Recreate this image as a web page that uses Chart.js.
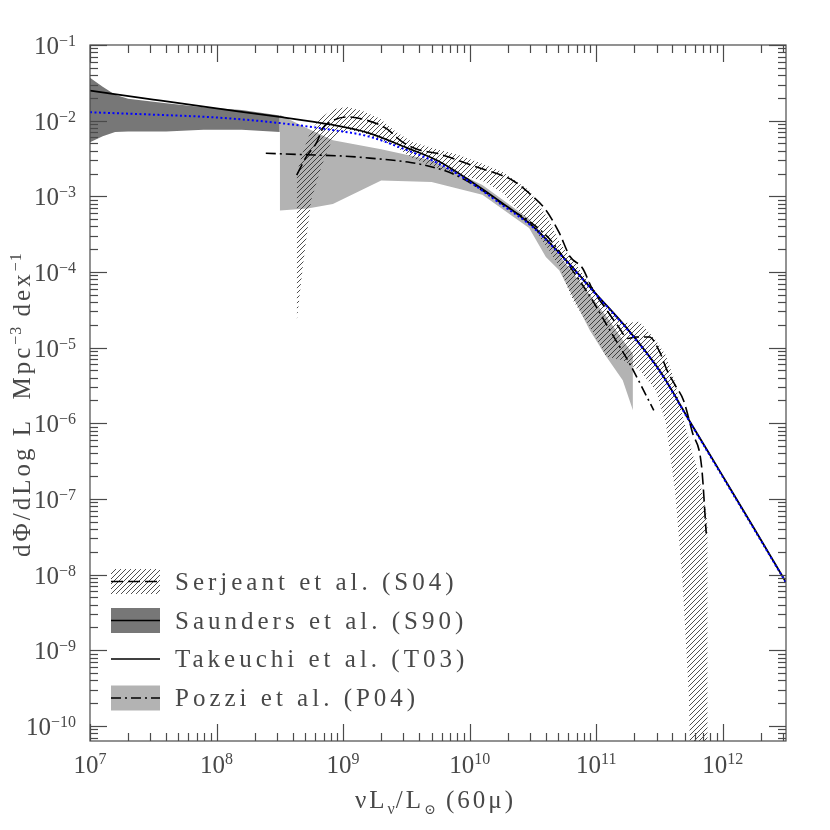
<!DOCTYPE html>
<html>
<head>
<meta charset="utf-8">
<script src="https://cdn.jsdelivr.net/npm/chart.js@4.4.1/dist/chart.umd.min.js"></script>
<style>
  body { margin: 0; background: #fff; }
</style>
</head>
<body>
<canvas id="lf" width="830" height="830"></canvas>
<script>
// ==============================
// Data
// ==============================

// Saunders et al. (S90) - dark grey band
const s90X  = [1.0e7, 1.26e7, 1.58e7, 2.0e7, 4.0e7, 7.9e7, 1.58e8, 3.16e8];
const s90Hi = [3.7e-2, 2.8e-2, 2.2e-2, 1.95e-2, 1.7e-2, 1.5e-2, 1.38e-2, 1.17e-2];
const s90Lo = [5.2e-3, 6.2e-3, 7.1e-3, 7.2e-3, 7.2e-3, 7.6e-3, 7.6e-3, 7.1e-3];

// Pozzi et al. (P04) - light grey band and dash-dot line
const p04X  = [3.16e8, 5.25e8, 8.3e8, 2.0e9, 5.0e9, 1.26e10, 2.95e10, 4.0e10, 5.1e10, 8.9e10, 1.2e11, 1.62e11, 1.95e11];
const p04Hi = [1.2e-2, 7.9e-3, 5.5e-3, 4.2e-3, 3.0e-3, 1.41e-3, 5.0e-4, 2.8e-4, 1.66e-4, 5.0e-5, 2.6e-5, 1.26e-5, 8.3e-6];
const p04Lo = [6.5e-4, 6.9e-4, 7.9e-4, 1.62e-3, 1.55e-3, 1.05e-3, 3.8e-4, 1.58e-4, 1.05e-4, 1.7e-5, 7.6e-6, 3.7e-6, 1.48e-6];
const p04LineX = [2.45e8, 5.0e8, 1.0e9, 1.62e9, 3.4e9, 5.5e9, 7.8e9, 1.26e10, 2.04e10, 2.95e10, 4.3e10, 6.2e10, 8.9e10, 1.26e11, 1.86e11, 2.85e11];
const p04LineY = [3.7e-3, 3.55e-3, 3.4e-3, 3.2e-3, 2.8e-3, 2.35e-3, 1.9e-3, 1.2e-3, 6.9e-4, 4.7e-4, 2.7e-4, 1.17e-4, 4.8e-5, 1.78e-5, 5.9e-6, 1.48e-6];

// Serjeant et al. (S04) - hatched band and dashed line
const s04X  = [4.3e8, 4.8e8, 5.6e8, 6.8e8, 8.3e8, 1.07e9, 1.41e9, 1.95e9, 2.63e9, 3.55e9, 4.8e9, 8.3e9, 1.26e10, 1.82e10, 2.95e10,
               4.2e10, 5.1e10, 6.5e10, 8.9e10, 1.2e11, 1.62e11, 2.2e11, 2.95e11, 3.55e11, 4.2e11, 4.8e11, 5.4e11, 5.75e11, 6.3e11, 7.4e11, 7.6e11];
const s04Hi = [2.0e-3, 3.8e-3, 7.6e-3, 1.12e-2, 1.41e-2, 1.51e-2, 1.35e-2, 1.07e-2, 7.1e-3, 5.2e-3, 4.5e-3, 3.5e-3, 2.7e-3, 2.1e-3, 1.2e-3,
               5.0e-4, 2.5e-4, 1.45e-4, 7.1e-5, 3.5e-5, 2.1e-5, 2.2e-5, 1.26e-5, 7.9e-6, 3.5e-6, 1.26e-6, 6.3e-7, 4.0e-7, 2.5e-7, 6.5e-8, 4.5e-8];
const s04Lo = [2.2e-5, 1.15e-4, 8.9e-4, 2.6e-3, 5.9e-3, 7.6e-3, 6.9e-3, 5.6e-3, 4.5e-3, 3.2e-3, 2.6e-3, 1.9e-3, 1.6e-3, 1.12e-3, 4.5e-4,
               2.0e-4, 1.17e-4, 4.3e-5, 1.9e-5, 7.6e-6, 6.8e-6, 5.0e-6, 2.75e-6, 1.0e-6, 1.26e-7, 8.5e-9, 2.5e-10, 1e-12, 1e-12, 1e-12, 1e-12];
const s04LineX = [4.3e8, 5.1e8, 6.2e8, 6.9e8, 7.8e8, 1.07e9, 1.51e9, 2.19e9, 2.95e9, 4.0e9, 5.5e9, 7.2e9, 1.12e10, 2.19e10,
                  2.95e10, 4.0e10, 5.1e10, 6.2e10, 7.8e10, 9.3e10, 1.2e11, 1.51e11, 1.78e11, 2.04e11, 2.63e11, 3.16e11, 3.63e11,
                  4.2e11, 4.9e11, 5.75e11, 6.8e11, 7.4e11];
const s04LineY = [1.9e-3, 3.3e-3, 5.2e-3, 7.9e-3, 9.5e-3, 1.12e-2, 1.02e-2, 7.9e-3, 5.2e-3, 4.1e-3, 3.7e-3, 3.2e-3, 2.45e-3, 1.62e-3,
                  1.1e-3, 6.6e-4, 3.3e-4, 1.6e-4, 1.12e-4, 6.0e-5, 3.2e-5, 1.86e-5, 1.32e-5, 1.38e-5, 1.38e-5, 8.9e-6, 5.0e-6,
                  3.2e-6, 2.0e-6, 7.6e-7, 2.7e-7, 3.5e-8];

// Takeuchi et al. (T03) - solid line, and the blue dotted fit
const t03X = [1e7, 3.16e7, 1e8, 3.16e8, 7.9e8, 1.58e9, 3.16e9, 5.6e9, 1e10, 1.78e10, 3.16e10, 5.6e10,
              1e11, 1.78e11, 3.16e11, 5.6e11, 1e12, 1.78e12, 3.16e12];
const t03Y = [2.5e-2, 1.9e-2, 1.45e-2, 1.12e-2, 8.9e-3, 6.9e-3, 4.4e-3, 2.95e-3, 1.62e-3, 8.3e-4, 4.0e-4, 1.51e-4,
              5.1e-5, 1.74e-5, 5.0e-6, 1.0e-6, 2.0e-7, 4.0e-8, 7.9e-9];
const fitY = [1.29e-2, 1.2e-2, 1.1e-2, 9.3e-3, 7.6e-3, 6.2e-3, 4.1e-3, 2.75e-3, 1.55e-3, 7.8e-4, 3.9e-4, 1.48e-4,
              5.0e-5, 1.7e-5, 4.9e-6, 9.8e-7, 1.95e-7, 3.9e-8, 7.8e-9];

// Axis tick labels (powers of ten)
const xExps = ['7', '8', '9', '10', '11', '12'];
const yExps = ['-1', '-2', '-3', '-4', '-5', '-6', '-7', '-8', '-9', '-10'];

const legendLabels = ['Serjeant et al. (S04)', 'Saunders et al. (S90)', 'Takeuchi et al. (T03)', 'Pozzi et al. (P04)'];

// ==============================
// Helpers
// ==============================
const pts = (xs, ys) => xs.map((x, i) => ({ x: x, y: ys[i] }));

function makeHatch() {
    const c = document.createElement('canvas');
    c.width = 5; c.height = 5;
    const g = c.getContext('2d');
    g.strokeStyle = '#222';
    g.lineWidth = 0.8;
    g.beginPath();
    g.moveTo(0, 5); g.lineTo(5, 0);
    g.moveTo(-1, 1); g.lineTo(1, -1);
    g.moveTo(4, 6); g.lineTo(6, 4);
    g.stroke();
    return g.createPattern(c, 'repeat');
}
const hatch = makeHatch();

const FONT = '"Liberation Serif", "DejaVu Serif", serif';
const INK = '#484848';

function rich(ctx, parts, x, y, draw) {
    let cx = x;
    for (const [t, size, dy, sp] of parts) {
        ctx.font = size + 'px ' + FONT;
        ctx.letterSpacing = (sp || 0) + 'px';
        if (draw) ctx.fillText(t, cx, y + dy);
        cx += ctx.measureText(t).width;
    }
    return cx - x;
}

// ==============================
// Frame, ticks, labels, legend
// ==============================
const decor = {
    id: 'decor',
    afterDraw(chart) {
        const { ctx, chartArea: a, scales: { x, y } } = chart;
        ctx.save();
        ctx.strokeStyle = '#4a4a4a';
        ctx.lineWidth = 1.2;
        ctx.strokeRect(a.left, a.top, a.right - a.left, a.bottom - a.top);

        const seg = (x1, y1, x2, y2) => { ctx.beginPath(); ctx.moveTo(x1, y1); ctx.lineTo(x2, y2); ctx.stroke(); };

        // x ticks (inside, top and bottom)
        for (let e = 7; e <= 12; e++) {
            for (let m = 1; m <= 9; m++) {
                const v = m * Math.pow(10, e);
                if (v > x.max) break;
                const px = Math.round(x.getPixelForValue(v)) + 0.5;
                const len = m === 1 ? 17 : 8;
                seg(px, a.bottom, px, a.bottom - len);
                seg(px, a.top, px, a.top + len);
            }
        }
        // y ticks (inside, left and right)
        for (let e = -11; e <= -1; e++) {
            for (let m = 1; m <= 9; m++) {
                const v = m * Math.pow(10, e);
                if (v < y.min || v > y.max * 1.0001) continue;
                const py = Math.round(y.getPixelForValue(v)) + 0.5;
                const len = m === 1 ? 17 : 8;
                seg(a.left, py, a.left + len, py);
                seg(a.right, py, a.right - len, py);
            }
        }

        ctx.fillStyle = INK;
        ctx.textBaseline = 'alphabetic';

        // x tick labels
        xExps.forEach(ex => {
            const px = x.getPixelForValue(Math.pow(10, Number(ex)));
            const parts = [['10', 25, 0], [ex, 16, -9]];
            const w = rich(ctx, parts, 0, 0, false);
            rich(ctx, parts, px - w / 2, a.bottom + 32, true);
        });
        // y tick labels
        yExps.forEach(ex => {
            const py = y.getPixelForValue(Math.pow(10, Number(ex)));
            const parts = [['10', 25, 0], [ex.replace('-', '\u2212'), 16, -8]];
            const w = rich(ctx, parts, 0, 0, false);
            rich(ctx, parts, 76 - w, py + 9, true);
        });

        // axis titles
        rich(ctx, [['\u03BDL', 25, 0, 3], ['\u03BD', 16, 6, 1], ['/L', 25, 0, 3], ['\u2299', 14, 6, 1], [' (60\u03BC)', 25, 0, 3]],
             355, 808, true);
        ctx.save();
        ctx.translate(30, 557);
        ctx.rotate(-Math.PI / 2);
        rich(ctx, [['d\u03A6/dLog L  Mpc', 25, 0, 3], ['\u22123', 16, -9, 1], [' dex', 25, 0, 3], ['\u22121', 16, -9, 1]], 0, 0, true);
        ctx.restore();

        // legend
        const bx = 111, bw = 49;
        const rows = [581.5, 620.5, 659, 698];
        // S04: hatched box + dashed line
        ctx.fillStyle = hatch;
        ctx.fillRect(bx, rows[0] - 12.5, bw, 25);
        ctx.strokeStyle = '#000'; ctx.lineWidth = 1.6;
        ctx.setLineDash([12, 5]);
        seg(bx, rows[0], bx + bw, rows[0]);
        // S90: dark box + solid line
        ctx.setLineDash([]);
        ctx.fillStyle = '#777';
        ctx.fillRect(bx, rows[1] - 12.5, bw, 25);
        seg(bx, rows[1], bx + bw, rows[1]);
        // T03: solid line
        seg(bx, rows[2], bx + bw, rows[2]);
        // P04: light box + dash-dot line
        ctx.fillStyle = '#b3b3b3';
        ctx.fillRect(bx, rows[3] - 12.5, bw, 25);
        ctx.setLineDash([10, 4, 2, 4]);
        seg(bx, rows[3], bx + bw, rows[3]);
        ctx.setLineDash([]);

        ctx.fillStyle = INK;
        legendLabels.forEach((t, i) => {
            rich(ctx, [[t, 25, 0, 4]], 175, rows[i] + 8, true);
        });
        ctx.restore();
    }
};

// ==============================
// Chart
// ==============================
const band = (data, extra) => Object.assign({
    data: data,
    borderWidth: 0,
    borderColor: 'rgba(0,0,0,0)',
    pointRadius: 0,
    tension: 0,
    fill: false
}, extra);

const curve = (data, extra) => Object.assign({
    data: data,
    fill: false,
    pointRadius: 0,
    borderColor: '#000',
    borderWidth: 1.6,
    cubicInterpolationMode: 'monotone'
}, extra);

const ctx = document.getElementById('lf').getContext('2d');
new Chart(ctx, {
    type: 'line',
    data: {
        datasets: [
            band(pts(s90X, s90Hi), { label: 'S90 hi', fill: '+1', backgroundColor: '#777', order: 10 }),
            band(pts(s90X, s90Lo), { label: 'S90 lo', order: 10 }),
            band(pts(p04X, p04Hi), { label: 'P04 hi', fill: '+1', backgroundColor: '#b3b3b3', order: 9 }),
            band(pts(p04X, p04Lo), { label: 'P04 lo', order: 9 }),
            band(pts(s04X, s04Hi), { label: 'S04 hi', fill: '+1', backgroundColor: hatch, order: 8 }),
            band(pts(s04X, s04Lo), { label: 'S04 lo', order: 8 }),
            curve(pts(p04LineX, p04LineY), { label: 'Pozzi et al. (P04)', borderDash: [10, 4, 2, 4], order: 4 }),
            curve(pts(s04LineX, s04LineY), { label: 'Serjeant et al. (S04)', borderDash: [12, 5], order: 3 }),
            curve(pts(t03X, t03Y), { label: 'Takeuchi et al. (T03)', borderWidth: 1.8, order: 2 }),
            curve(pts(t03X, fitY), { label: 'fit', borderColor: '#0000ff', borderWidth: 2, borderDash: [2, 2.5], order: 1 })
        ]
    },
    options: {
        responsive: false,
        animation: false,
        devicePixelRatio: 1,
        layout: { padding: { left: 90, right: 44, top: 45, bottom: 89 } },
        plugins: { legend: { display: false }, tooltip: { enabled: false } },
        scales: {
            x: { type: 'logarithmic', min: 1e7, max: 3.16e12, display: false },
            y: { type: 'logarithmic', min: 6.3e-11, max: 0.1, display: false }
        }
    },
    plugins: [decor]
});
</script>
</body>
</html>
